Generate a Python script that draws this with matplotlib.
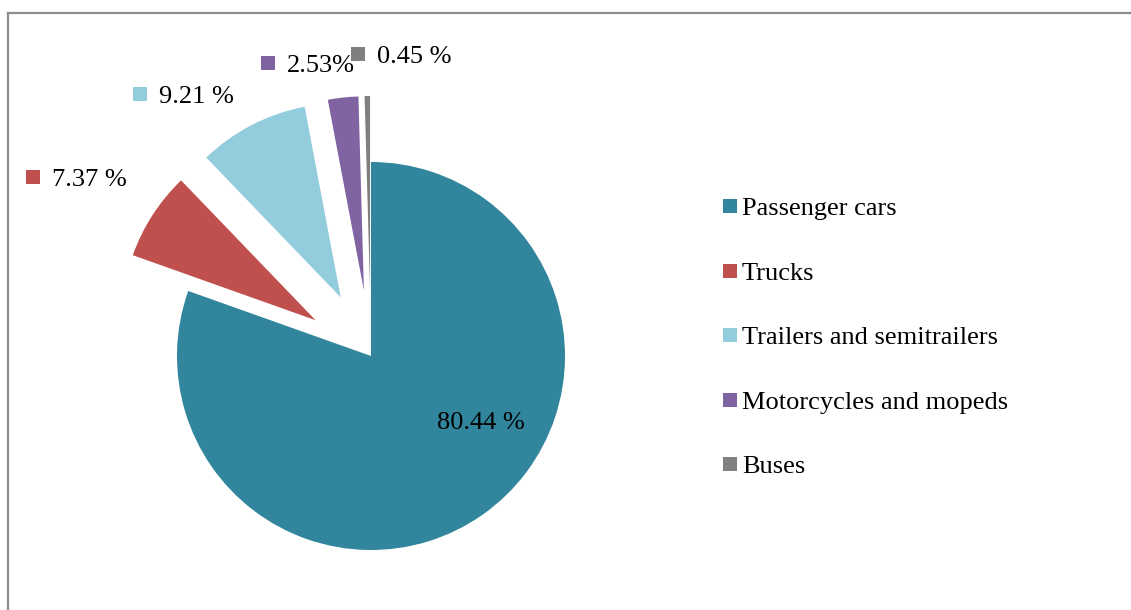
import matplotlib
matplotlib.use("Agg")
import matplotlib.pyplot as plt
from matplotlib.patches import Rectangle
from matplotlib.lines import Line2D

categories = ["Passenger cars", "Trucks", "Trailers and semitrailers",
              "Motorcycles and mopeds", "Buses"]
shares = [80.44, 7.37, 9.21, 2.53, 0.45]
label_texts = ["80.44 %", "7.37 %", "9.21 %", "2.53%", "0.45 %"]
colors = ["#31859C", "#C0504D", "#93CDDD", "#8064A2", "#7F7F7F"]
explode_frac = [0, 0.34, 0.34, 0.34, 0.34]

W, H = 1131, 610
DPI = 100
plt.rcParams['font.family'] = ['Liberation Serif', 'DejaVu Serif']
FS = 19

fig = plt.figure(figsize=(W / DPI, H / DPI), dpi=DPI)
ax = fig.add_axes([0, 0, 1, 1])

def Y(y):
    return H - y

R = 194
wedges, _ = ax.pie(shares, explode=[e * R for e in explode_frac],
                   colors=colors, startangle=90, counterclock=False,
                   center=(371, Y(356)), radius=R,
                   wedgeprops=dict(linewidth=0))
ax.set_xlim(0, W)
ax.set_ylim(0, H)
ax.set_aspect('auto')
ax.axis('off')

# data labels (pixel layout: marker left x, text baseline y)
label_pos = [None, (26, 186), (133, 103), (261, 72), (351, 63)]
for i, txt in enumerate(label_texts):
    if i == 0:
        ax.text(481, Y(429), txt, fontsize=FS, ha='center', va='baseline')
        continue
    mx, by = label_pos[i]
    ax.add_patch(Rectangle((mx, Y(by - 2)), 14, 14, facecolor=colors[i],
                           edgecolor='none'))
    ax.text(mx + 26, Y(by), txt, fontsize=FS, ha='left', va='baseline')

# legend
leg_x = 723
leg_base0 = 215
leg_step = 64.5
for i, cat in enumerate(categories):
    by = leg_base0 + i * leg_step
    ax.add_patch(Rectangle((leg_x, Y(by - 2)), 14, 14, facecolor=colors[i],
                           edgecolor='none'))
    ax.text(leg_x + 19, Y(by), cat, fontsize=FS, ha='left', va='baseline')

# chart-area border (top and left visible)
fig.add_artist(Line2D([7.5 / W, 7.5 / W], [0, Y(12.5) / H], color='#8C8C8C',
                      lw=1.6, transform=fig.transFigure))
fig.add_artist(Line2D([7.5 / W, 1.0], [Y(12.5) / H, Y(12.5) / H],
                      color='#8C8C8C', lw=1.6, transform=fig.transFigure))

fig.savefig("out.png", dpi=DPI)
